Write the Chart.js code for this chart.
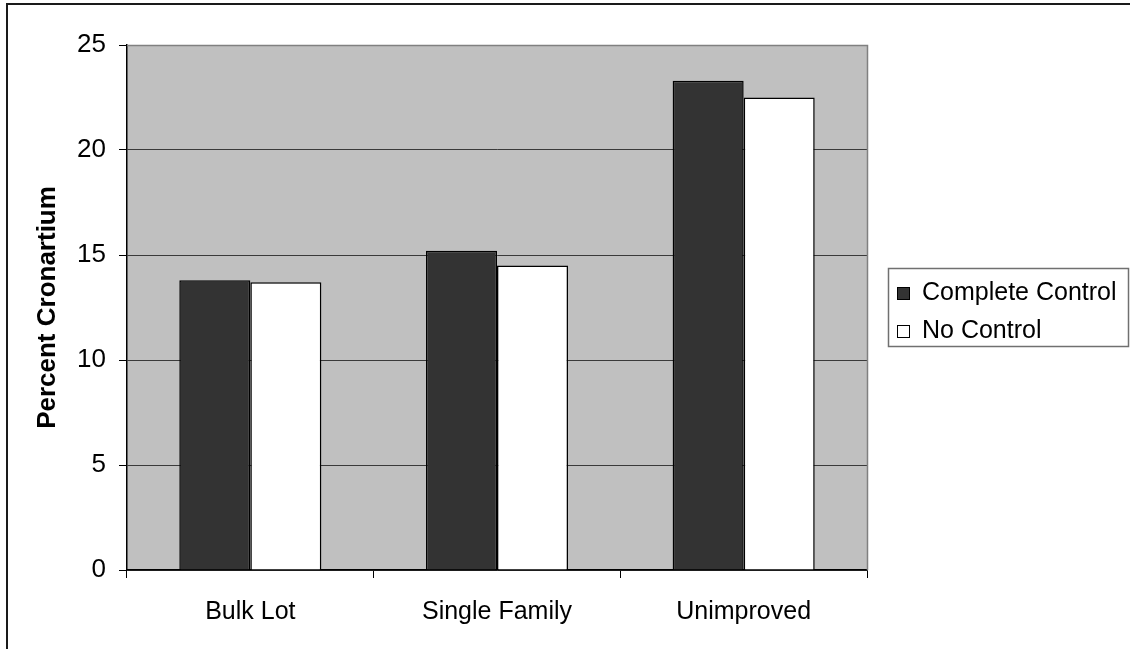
<!DOCTYPE html>
<html>
<head>
<meta charset="utf-8">
<style>
  html, body { margin: 0; padding: 0; background: #ffffff; }
  #wrap { width: 1130px; height: 649px; position: relative; }
</style>
<script src="https://cdn.jsdelivr.net/npm/chart.js@4/dist/chart.umd.min.js"></script>
</head>
<body>
<div id="wrap"><canvas id="chart" width="1130" height="649"></canvas></div>
<script>
// Cronartium infection by lot type and control treatment
const categories = ['Bulk Lot', 'Single Family', 'Unimproved'];
const completeControl = [13.8, 15.2, 23.3];
const noControl = [13.7, 14.5, 22.5];
const seriesNames = ['Complete Control', 'No Control'];
const yTicks = [0, 5, 10, 15, 20, 25];

const FONT = '"Liberation Sans", Arial, sans-serif';

// Grey plot background, plot frame and outer chart border
const framePlugin = {
  id: 'frame',
  beforeDraw(chart) {
    const { ctx, chartArea: a } = chart;
    ctx.save();
    ctx.fillStyle = '#ffffff';
    ctx.fillRect(0, 0, chart.width, chart.height);
    ctx.strokeStyle = '#1a1a1a';
    ctx.lineWidth = 2;
    ctx.strokeRect(7, 4, chart.width + 50, chart.height + 50);
    ctx.fillStyle = '#c0c0c0';
    ctx.fillRect(a.left, a.top, a.right - a.left, a.bottom - a.top);
    ctx.restore();
  },
  afterDatasetsDraw(chart) {
    const { ctx, chartArea: a } = chart;
    ctx.save();
    ctx.strokeStyle = '#808080';
    ctx.lineWidth = 1.5;
    ctx.beginPath();
    ctx.moveTo(a.left, a.top + 0.5);
    ctx.lineTo(a.right + 0.5, a.top + 0.5);
    ctx.lineTo(a.right + 0.5, a.bottom);
    ctx.stroke();
    ctx.restore();
  }
};

// Boxed legend to the right of the plot
const boxLegendPlugin = {
  id: 'boxLegend',
  afterDraw(chart) {
    const { ctx } = chart;
    const box = { x: 888, y: 268, w: 241, h: 79 };
    ctx.save();
    ctx.strokeStyle = '#707070';
    ctx.lineWidth = 1.5;
    ctx.strokeRect(box.x + 0.5, box.y + 0.5, box.w - 1, box.h - 1);
    ctx.font = '25px ' + FONT;
    ctx.textBaseline = 'middle';
    ctx.textAlign = 'left';
    const rowY = [293, 331];
    chart.data.datasets.forEach((ds, i) => {
      const cy = rowY[i];
      ctx.fillStyle = ds.backgroundColor;
      ctx.fillRect(897, cy - 6, 13, 13);
      ctx.strokeStyle = '#000000';
      ctx.lineWidth = 1;
      ctx.strokeRect(897.5, cy - 5.5, 12, 12);
      ctx.fillStyle = '#000000';
      ctx.fillText(ds.label, 922, cy);
    });
    ctx.restore();
  }
};

new Chart(document.getElementById('chart'), {
  type: 'bar',
  data: {
    labels: categories,
    datasets: [
      {
        label: seriesNames[0],
        data: completeControl,
        backgroundColor: '#333333',
        borderColor: '#000000',
        borderWidth: 1.5
      },
      {
        label: seriesNames[1],
        data: noControl,
        backgroundColor: '#ffffff',
        borderColor: '#000000',
        borderWidth: 1.5
      }
    ]
  },
  options: {
    responsive: false,
    animation: false,
    devicePixelRatio: 1,
    layout: { padding: { left: 32, top: 45, right: 263, bottom: 0 } },
    datasets: {
      bar: { categoryPercentage: 0.576, barPercentage: 1.0 }
    },
    plugins: {
      legend: { display: false },
      tooltip: { enabled: false },
      title: { display: false }
    },
    scales: {
      x: {
        offset: true,
        afterFit(scale) { scale.height = 79; },
        grid: {
          offset: true,
          drawOnChartArea: false,
          drawTicks: true,
          tickLength: 8,
          tickColor: '#000000',
          tickWidth: 1
        },
        border: { display: true, color: '#000000', width: 1.5 },
        ticks: {
          color: '#000000',
          padding: 19,
          maxRotation: 0,
          font: { family: FONT, size: 25 }
        }
      },
      y: {
        min: 0,
        max: 25,
        afterFit(scale) { scale.width = 95; },
        afterBuildTicks(scale) { scale.ticks = yTicks.map(v => ({ value: v })); },
        grid: {
          color: ctx => (ctx.tick && ctx.tick.value === 25) ? '#808080' : '#3a3a3a',
          lineWidth: 1,
          drawTicks: true,
          tickLength: 8,
          tickColor: '#000000'
        },
        border: { display: true, color: '#000000', width: 1.5 },
        ticks: {
          color: '#000000',
          padding: 13,
          font: { family: FONT, size: 26 }
        },
        title: {
          display: true,
          text: 'Percent Cronartium',
          color: '#000000',
          padding: { top: 0, bottom: 0 },
          font: { family: FONT, size: 26, weight: 'bold' }
        }
      }
    }
  },
  plugins: [framePlugin, boxLegendPlugin]
});
</script>
</body>
</html>
